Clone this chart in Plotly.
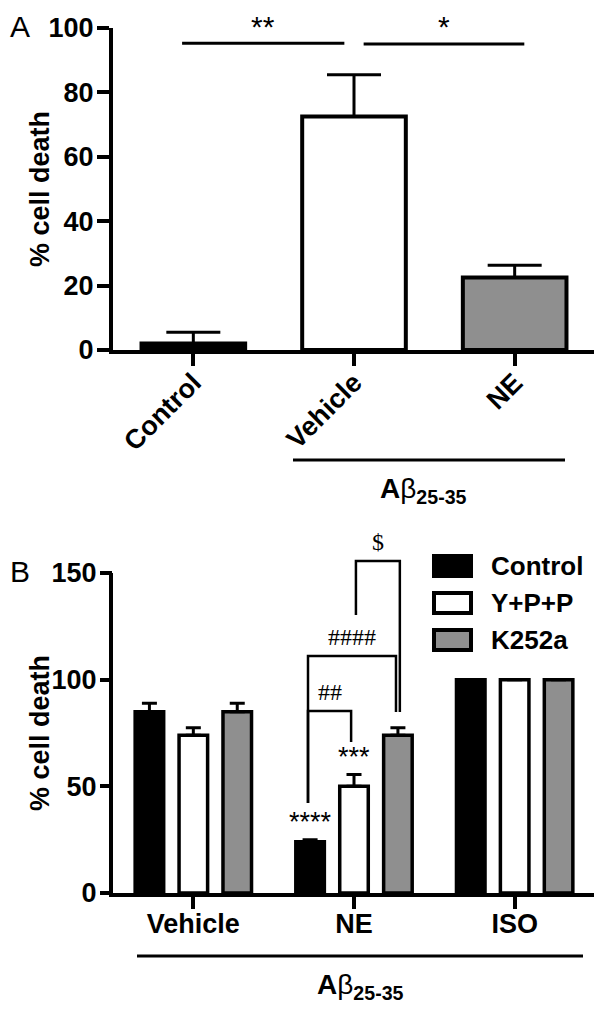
import plotly.graph_objects as go

# page pixels of the screenshot; the page body adds an 8px margin around the figure
PAGE_OFF = 8
W, H = 602 - PAGE_OFF, 1009 - PAGE_OFF

# ---------------- Panel A data ----------------
a_categories = ["Control", "Vehicle", "NE"]
a_values = [2, 72.5, 22.5]
a_errors = [3.5, 13, 3.8]
a_colors = ["#000000", "#ffffff", "#8f8f8f"]
a_yticks = [0, 20, 40, 60, 80, 100]
# significance lines: label, from-x, to-x, line level
a_sig_labels = ["**", "*"]
a_sig_x0 = [-0.07, 1.06]
a_sig_x1 = [0.94, 2.06]
a_sig_level = [95.3, 95.0]

# ---------------- Panel B data ----------------
b_categories = ["Vehicle", "NE", "ISO"]
b_series = ["Control", "Y+P+P", "K252a"]
b_control = [85, 24, 100]
b_ypp = [74, 50, 100]
b_k252a = [85, 74, 100]
b_control_err = [4, 1, 0]
b_ypp_err = [3.5, 5.5, 0]
b_k252a_err = [4, 3.5, 0]
b_colors = ["#000000", "#ffffff", "#8f8f8f"]
b_yticks = [0, 50, 100, 150]
# stars over NE bars (series index, label)
b_star_series = [0, 1]
b_star_labels = ["****", "***"]
# brackets on NE group: (left series, right series, top level, left foot, right foot, label, nudge_l, nudge_r)
b_brackets = [
    (0, 1, 85.3, 42.2, 70.8, "##", -0.013, -0.018),
    (0, 2, 111.1, 42.2, 84.8, "####", -0.013, -0.012),
    (1, 2, 155.6, 130.3, 84.8, "$", 0.012, 0.012),
]

FONT = "Arial, Liberation Sans, sans-serif"
SERIF = "Times New Roman, Liberation Serif, serif"


def px_x(p):
    return (p - PAGE_OFF) / W


def px_y(p):
    return 1 - (p - PAGE_OFF) / H


xdom = [px_x(113), px_x(595)]
a_ydom = [px_y(350), px_y(28)]
b_range = [0, 160]
b_ydom = [px_y(893), px_y(893 - 160 * 320 / 150)]

bargap = 0.18
bargroupgap = 0.35

fig = go.Figure()

# Panel A bars
fig.add_trace(go.Bar(
    x=a_categories, y=a_values, xaxis="x", yaxis="y",
    width=0.645,
    marker=dict(color=a_colors, line=dict(color="black", width=4)),
    error_y=dict(type="data", array=a_errors, arrayminus=[0] * len(a_errors),
                 symmetric=False, color="black", thickness=3, width=27),
    showlegend=False,
))

# Panel B bars
b_vals = [b_control, b_ypp, b_k252a]
b_errs = [b_control_err, b_ypp_err, b_k252a_err]
for name, vals, errs, col in zip(b_series, b_vals, b_errs, b_colors):
    fig.add_trace(go.Bar(
        x=b_categories, y=vals, name=name, xaxis="x2", yaxis="y2",
        marker=dict(color=col, line=dict(color="black", width=3.5)),
        error_y=dict(type="data", array=errs, arrayminus=[0] * len(errs),
                     symmetric=False, color="black", thickness=3, width=7.5),
        showlegend=False,
    ))

shapes = []
annotations = []

# Panel A significance lines (labels sit at the very top of the figure)
for lab, x0, x1, lvl in zip(a_sig_labels, a_sig_x0, a_sig_x1, a_sig_level):
    shapes.append(dict(type="line", xref="x", yref="y", x0=x0, x1=x1, y0=lvl, y1=lvl,
                       line=dict(color="black", width=3)))
    annotations.append(dict(xref="x", yref="paper", x=(x0 + x1) / 2, y=1, text=lab,
                            showarrow=False, xanchor="center", yanchor="top",
                            font=dict(family=FONT, size=30, color="black")))

# Panel B bar offsets
slot = (1 - bargap) / len(b_series)
offsets = [(k - (len(b_series) - 1) / 2) * slot for k in range(len(b_series))]
ne = b_categories.index("NE")

for s, lab in zip(b_star_series, b_star_labels):
    top = b_vals[s][ne] + b_errs[s][ne]
    annotations.append(dict(xref="x2", yref="y2", x=ne + offsets[s], y=top + 0.5, text=lab,
                            showarrow=False, xanchor="center", yanchor="bottom",
                            font=dict(family=FONT, size=27, color="black")))

for sl, sr, lvl, fl, fr, lab, nl, nr in b_brackets:
    xl = ne + offsets[sl] + nl
    xr = ne + offsets[sr] + nr
    path = f"M{xl},{fl} L{xl},{lvl} L{xr},{lvl} L{xr},{fr}"
    shapes.append(dict(type="path", xref="x2", yref="y2", path=path,
                       line=dict(color="black", width=2.5)))
    annotations.append(dict(xref="x2", yref="y2", x=(xl + xr) / 2, y=lvl + 2, text=lab,
                            showarrow=False, xanchor="center", yanchor="bottom",
                            font=dict(family=SERIF, size=24, color="black")))

# Panel B y-axis line (stops at the top tick)
yb_top = b_ydom[0] + (b_yticks[-1] - b_range[0]) / (b_range[1] - b_range[0]) * (b_ydom[1] - b_ydom[0])
shapes.append(dict(type="line", xref="paper", yref="paper",
                   x0=px_x(111), x1=px_x(111), y0=b_ydom[0] - 4 / H, y1=yb_top,
                   line=dict(color="black", width=4)))

# A-beta underline bars
shapes.append(dict(type="line", xref="paper", yref="paper", x0=px_x(293), x1=px_x(565),
                   y0=px_y(460), y1=px_y(460), line=dict(color="black", width=3)))
shapes.append(dict(type="line", xref="paper", yref="paper", x0=px_x(137), x1=px_x(583),
                   y0=px_y(956), y1=px_y(956), line=dict(color="black", width=3)))

abeta = "<b>A</b>β<sub><b>25-35</b></sub>"
annotations.append(dict(xref="paper", yref="paper", x=px_x(423), y=px_y(490), text=abeta,
                        showarrow=False, xanchor="center", yanchor="middle",
                        font=dict(family=FONT, size=28, color="black")))
annotations.append(dict(xref="paper", yref="paper", x=px_x(360), y=px_y(986), text=abeta,
                        showarrow=False, xanchor="center", yanchor="middle",
                        font=dict(family=FONT, size=28, color="black")))

# Panel letters
annotations.append(dict(xref="paper", yref="paper", x=px_x(8), y=1, text="A",
                        showarrow=False, xanchor="left", yanchor="top",
                        font=dict(family=FONT, size=30, color="black")))
annotations.append(dict(xref="paper", yref="paper", x=px_x(8), y=px_y(571), text="B",
                        showarrow=False, xanchor="left", yanchor="middle",
                        font=dict(family=FONT, size=30, color="black")))

# Y-axis titles
for yc in [189, 733]:
    annotations.append(dict(xref="paper", yref="paper", x=px_x(40), y=px_y(yc),
                            text="<b>% cell death</b>", textangle=-90, showarrow=False,
                            xanchor="center", yanchor="middle",
                            font=dict(family=FONT, size=27, color="black")))

# Manual legend for panel B
leg_rows = [566, 603, 640]
for name, col, yc in zip(b_series, b_colors, leg_rows):
    shapes.append(dict(type="rect", xref="paper", yref="paper",
                       x0=px_x(434), x1=px_x(471), y0=px_y(yc + 10), y1=px_y(yc - 10),
                       fillcolor=col, line=dict(color="black", width=4)))
    annotations.append(dict(xref="paper", yref="paper", x=px_x(489), y=px_y(yc),
                            text=f"<b>{name}</b>", showarrow=False,
                            xanchor="left", yanchor="middle",
                            font=dict(family=FONT, size=26, color="black")))

axis_common = dict(showgrid=False, zeroline=False, linecolor="black", linewidth=4,
                   automargin=False,
                   ticks="outside", ticklen=12, tickwidth=4, tickcolor="black",
                   tickfont=dict(family=FONT, size=27, color="black", weight="bold"))

fig.update_layout(
    template="none",
    width=W, height=H,
    margin=dict(l=0, r=0, t=0, b=0, pad=0),
    paper_bgcolor="white", plot_bgcolor="white",
    barmode="group", bargap=bargap, bargroupgap=bargroupgap,
    showlegend=False,
    xaxis=dict(domain=xdom, anchor="y", showline=True, range=[-0.5, 2.5],
               tickangle=-45, ticklabelstandoff=-10, **axis_common),
    yaxis=dict(domain=a_ydom, anchor="x", showline=True, range=[0, 100],
               tickvals=a_yticks, ticklabelstandoff=-2, **axis_common),
    xaxis2=dict(domain=xdom, anchor="y2", showline=True, range=[-0.5, 2.5],
                ticklabelstandoff=-8, **axis_common),
    yaxis2=dict(domain=b_ydom, anchor="x2", showline=False, range=b_range,
                tickvals=b_yticks, ticklabelstandoff=-2, **axis_common),
    shapes=shapes, annotations=annotations,
)

fig.write_html("out.html")
